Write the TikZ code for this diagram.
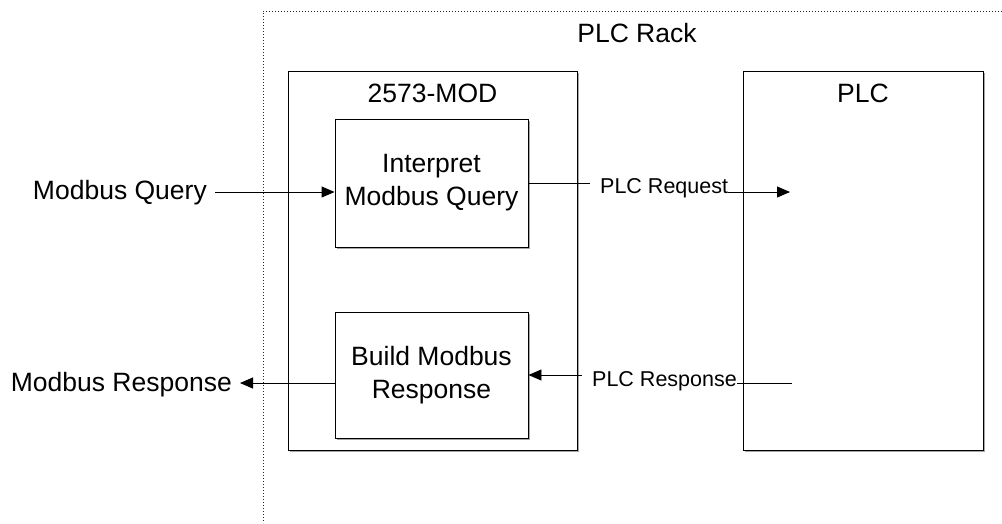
\documentclass[tikz,border=0pt]{standalone}
\usepackage{fontspec}
\setmainfont{Liberation Sans}
\usetikzlibrary{arrows.meta,shadows}
\begin{document}
\begin{tikzpicture}[x=1pt,y=-1pt,
  big/.style={font=\fontsize{26.5}{33}\selectfont, inner sep=0pt},
  small/.style={font=\fontsize{21.5}{26}\selectfont, inner sep=0pt},
  box/.style={draw=black, line width=0.9pt, fill=white, rectangle, inner sep=0pt,
    drop shadow={shadow xshift=1.6pt, shadow yshift=-1.6pt, fill=black!35, opacity=1}},
  rack/.style={draw=black!85, line width=1pt, dash pattern=on 1pt off 2pt},
  conn/.style={draw=black, line width=0.9pt},
  arr/.style={conn, -{Triangle[length=13pt,width=11pt]}}
]
\useasboundingbox (0,0) rectangle (1002,523);
% rack outline
\draw[rack] (1002,11) -- (263,11) -- (263,523);
\node[big, anchor=base] (racklbl) at (637,42) {PLC Rack};
% boxes
\node[box, minimum width=289pt, minimum height=379pt] (mod) at (432.5,260.5) {};
\node[box, minimum width=240pt, minimum height=379pt] (plc) at (863,260.5) {};
\node[big, anchor=base] (modlbl) at (432.5,102) {2573-MOD};
\node[big, anchor=base] (plclbl) at (863,102) {PLC};
\node[box, big, align=center, minimum width=193pt, minimum height=128pt] (interp) at (431.5,183) {Interpret\\Modbus Query};
\node[box, big, align=center, minimum width=193pt, minimum height=126pt] (build) at (431.5,375) {Build Modbus\\Response};
% outer labels
\node[big, anchor=base east] (mq) at (207,199) {Modbus Query};
\node[big, anchor=base east] (mr) at (232,391) {Modbus Response};
\coordinate (mqs) at (215,192);
\draw[arr] (mqs) -- (mqs -| interp.west);
\coordinate (mrt) at (240,383);
\draw[arr] (build.west |- mrt) -- (mrt);
% PLC request
\node[small, anchor=base west] (req) at (600,193.5) {PLC Request};
\draw[conn] (interp.east) -- ++(62,0);
\coordinate (reqt) at (790,192);
\draw[arr] (req.east |- reqt) -- (reqt);
% PLC response
\node[small, anchor=base west] (resp) at (592,386) {PLC Response};
\coordinate (resps) at (792,383);
\draw[conn] (resp.east |- resps) -- (resps);
\coordinate (respm) at (582,375);
\draw[arr] (respm) -- (build.east);
\end{tikzpicture}
\end{document}
